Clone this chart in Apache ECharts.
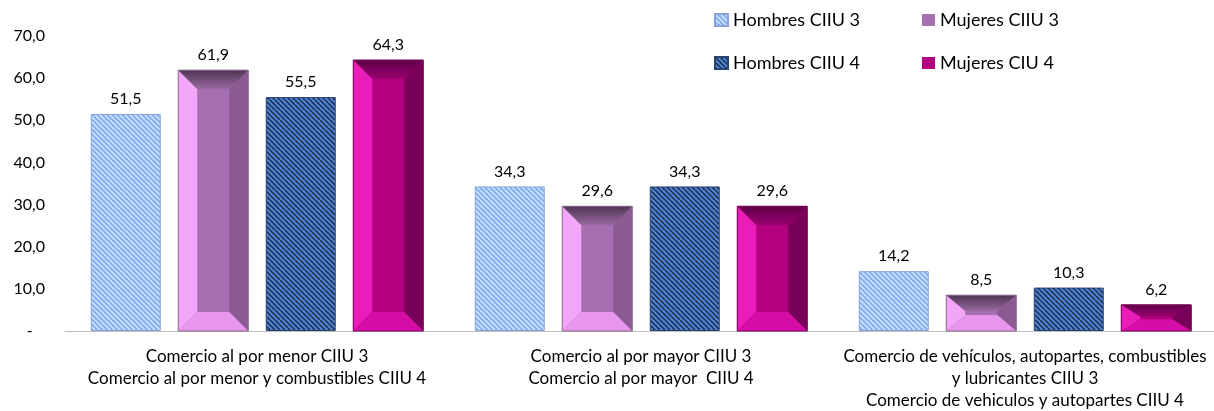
<!DOCTYPE html>
<html>
<head>
<meta charset="utf-8">
<script src="https://cdn.jsdelivr.net/npm/echarts@6/dist/echarts.min.js"></script>
<style>
  html, body { margin: 0; padding: 0; background: #fff; }
  #chart { width: 1214px; height: 411px; }
</style>
</head>
<body>
<div id="chart"></div>
<script>
// categorias del eje x
var categories = [
  'Comercio al por menor CIIU 3\nComercio al por menor y combustibles CIIU 4',
  'Comercio al por mayor CIIU 3\nComercio al por mayor  CIIU 4',
  'Comercio de vehículos, autopartes, combustibles\ny lubricantes CIIU 3\nComercio de vehiculos y autopartes CIIU 4'
];
var seriesNames = ['Hombres CIIU 3', 'Mujeres CIIU 3', 'Hombres CIIU 4', 'Mujeres CIU 4'];
var hombres3 = [51.5, 34.3, 14.2];
var mujeres3 = [61.9, 29.6, 8.5];
var hombres4 = [55.5, 34.3, 10.3];
var mujeres4 = [64.3, 29.6, 6.2];
var yTicks = [0, 10, 20, 30, 40, 50, 60, 70];

var BAR_W = 70;
var GAP = 17.5; // 25% del ancho

function fmt(v) {
  return v.toFixed(1).replace('.', ',');
}

// textura de rayas diagonales
function stripes(bg, fg, lw) {
  var c = document.createElement('canvas');
  c.width = c.height = 10;
  var g = c.getContext('2d');
  g.fillStyle = bg;
  g.fillRect(0, 0, 10, 10);
  g.strokeStyle = fg;
  g.lineWidth = lw;
  for (var k = -10; k <= 10; k += 5) {
    g.beginPath();
    g.moveTo(k, 0);
    g.lineTo(k + 10, 10);
    g.stroke();
  }
  return c;
}

// marco biselado encima de las barras de mujeres
function bevel(offsetIdx, pal) {
  return function (params, api) {
    var top = api.coord([api.value(0), api.value(1)]);
    var base = api.coord([api.value(0), 0]);
    var cx = top[0] - (4 * BAR_W + 3 * GAP) / 2 + BAR_W / 2 + offsetIdx * (BAR_W + GAP);
    var L = cx - BAR_W / 2, R = cx + BAR_W / 2, T = top[1], B = base[1];
    var h = B - T;
    var dx = 19, dy = Math.min(19, h * 0.45);
    function poly(pts, fill) {
      return { type: 'polygon', shape: { points: pts }, style: { fill: fill } };
    }
    return {
      type: 'group',
      children: [
        poly([[L, T], [R, T], [R - dx, T + dy], [L + dx, T + dy]], {
          type: 'linear', x: 0, y: 0, x2: 0, y2: 1,
          colorStops: [{ offset: 0, color: pal.topA }, { offset: 1, color: pal.topB }]
        }),
        poly([[L, T], [L + dx, T + dy], [L + dx, B - dy], [L, B]], pal.left),
        poly([[R, T], [R, B], [R - dx, B - dy], [R - dx, T + dy]], pal.right),
        poly([[L, B], [L + dx, B - dy], [R - dx, B - dy], [R, B]], pal.bottom),
        {
          type: 'rect',
          shape: { x: L, y: T, width: BAR_W, height: h },
          style: { fill: 'none', stroke: pal.edge, lineWidth: 1 }
        }
      ]
    };
  };
}

function pairs(arr) {
  return arr.map(function (v, i) { return [i, v]; });
}

var labelOpt = {
  show: true,
  position: 'top',
  distance: 7,
  color: '#000',
  fontSize: 16,
  fontFamily: 'Lato',
  formatter: function (p) { return fmt(p.value); }
};

var chart = echarts.init(document.getElementById('chart'));

function legendAt(name, left, top) {
  return {
    data: [name],
    left: left,
    top: top,
    padding: 0,
    icon: 'rect',
    itemWidth: 13,
    itemHeight: 12,
    itemGap: 6,
    textStyle: { fontSize: 18, fontFamily: 'Lato', color: '#000' }
  };
}

chart.setOption({
  animation: false,
  backgroundColor: '#fff',
  legend: [
    legendAt(seriesNames[0], 714, 11),
    legendAt(seriesNames[1], 922, 11),
    legendAt(seriesNames[2], 714, 54),
    legendAt(seriesNames[3], 922, 54)
  ],
  grid: { left: 65, top: 36, width: 1152, bottom: 80, outerBoundsMode: 'none', containLabel: false },
  xAxis: {
    type: 'category',
    data: categories,
    axisLine: { lineStyle: { color: '#bfbfbf', width: 1 } },
    axisTick: { show: false },
    axisLabel: {
      interval: 0,
      margin: 15,
      color: '#000',
      fontSize: 17,
      lineHeight: 22,
      fontFamily: 'Lato'
    }
  },
  yAxis: {
    type: 'value',
    min: yTicks[0],
    max: yTicks[yTicks.length - 1],
    interval: 10,
    splitLine: { show: false },
    axisLine: { show: false },
    axisTick: { show: false },
    axisLabel: {
      margin: 20,
      color: '#000',
      fontSize: 16,
      fontFamily: 'Lato',
      formatter: function (v) { return v === 0 ? '-   ' : fmt(v); }
    }
  },
  series: [
    {
      name: seriesNames[0], type: 'bar', data: hombres3,
      barWidth: BAR_W, barGap: '25%',
      itemStyle: {
        color: { image: stripes('#82adf0', '#cfe1fc', 1.7), repeat: 'repeat' },
        borderColor: '#86a4d8', borderWidth: 1
      },
      label: labelOpt
    },
    {
      name: seriesNames[1], type: 'bar', data: mujeres3,
      barWidth: BAR_W, barGap: '25%',
      itemStyle: { color: '#a56fb0' },
      label: labelOpt
    },
    {
      name: seriesNames[2], type: 'bar', data: hombres4,
      barWidth: BAR_W, barGap: '25%',
      itemStyle: {
        color: { image: stripes('#4e84d6', '#1d2b48', 1.5), repeat: 'repeat' },
        borderColor: '#2a4470', borderWidth: 1
      },
      label: labelOpt
    },
    {
      name: seriesNames[3], type: 'bar', data: mujeres4,
      barWidth: BAR_W, barGap: '25%',
      itemStyle: { color: '#b3007f' },
      label: labelOpt
    },
    {
      type: 'custom', data: pairs(mujeres3), silent: true, z: 3,
      renderItem: bevel(1, {
        topA: '#4f3552', topB: '#9a6aa2', left: '#f2a6f8', right: '#8a5a90',
        bottom: '#e896ee', edge: '#8c6a92'
      })
    },
    {
      type: 'custom', data: pairs(mujeres4), silent: true, z: 3,
      renderItem: bevel(3, {
        topA: '#5e0046', topB: '#9a0070', left: '#ea1cba', right: '#780058',
        bottom: '#d40ea6', edge: '#7a0058'
      })
    }
  ]
});
</script>
</body>
</html>
